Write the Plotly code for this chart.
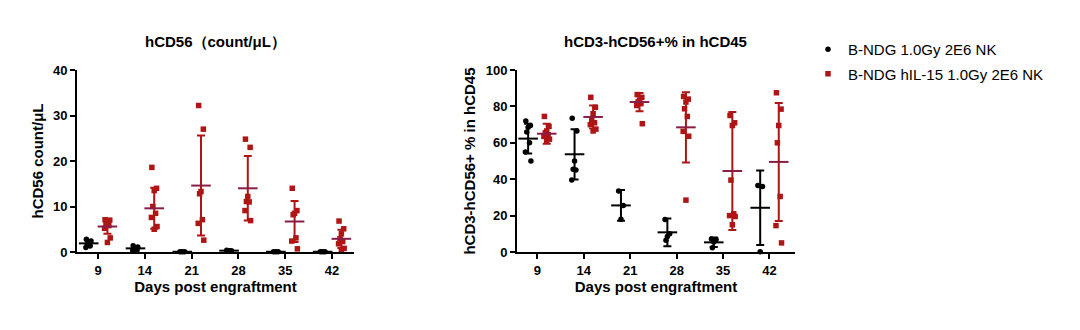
import plotly.graph_objects as go

days = ["9", "14", "21", "28", "35", "42"]
series_names = ["B-NDG 1.0Gy 2E6 NK", "B-NDG hIL-15 1.0Gy 2E6 NK"]

# Left panel: hCD56 count/uL — individual points
cd56_black = [
    [2.8, 2.4, 2.0, 1.7, 1.3, 1.0],
    [1.4, 1.1, 0.8, 0.6, 0.4, 0.3],
    [0.05, 0.05, 0.05],
    [0.4, 0.3, 0.3, 0.2],
    [0.05, 0.05, 0.05],
    [0.05, 0.05, 0.05],
]
cd56_red = [
    [7.1, 7.0, 6.8, 6.3, 5.8, 5.2, 3.1, 2.1],
    [18.6, 14.0, 13.5, 10.0, 8.5, 7.6, 5.6, 5.0],
    [32.2, 27.0, 13.3, 12.8, 7.1, 6.3, 2.6],
    [24.8, 23.0, 12.2, 11.1, 11.0, 9.1, 6.9],
    [14.0, 9.1, 8.5, 8.2, 3.1, 2.4, 0.7],
    [6.8, 5.1, 4.0, 2.9, 2.3, 1.8, 0.8, 0.2],
]
cd56_black_mean = [1.9, 0.8, 0.05, 0.3, 0.05, 0.05]
cd56_black_sd = [0.6, 0.4, 0.0, 0.1, 0.0, 0.0]
cd56_red_mean = [5.6, 9.6, 14.6, 14.0, 6.7, 2.9]
cd56_red_sd = [1.6, 4.5, 11.0, 7.1, 4.5, 2.0]

# Right panel: hCD3-hCD56+ % in hCD45
pct_black = [
    [72.0, 69.5, 68.5, 66.0, 60.0, 55.0, 50.0],
    [73.5, 66.5, 50.0, 45.5, 45.0, 39.5],
    [33.5, 25.5, 18.0],
    [17.8, 10.0, 8.5, 6.5],
    [7.2, 6.8, 5.5, 2.3],
    [36.5, 36.0, 0.2],
]
pct_red = [
    [74.5, 69.0, 66.5, 65.5, 64.5, 63.5, 62.0, 61.0],
    [85.0, 79.5, 76.0, 72.5, 71.0, 70.0, 67.5, 66.5],
    [86.5, 85.0, 83.5, 82.5, 81.5, 80.5, 70.5],
    [85.5, 84.0, 82.4, 78.7, 74.5, 66.3, 63.6, 28.5],
    [75.0, 71.0, 69.5, 39.5, 21.0, 20.0, 19.5, 15.0],
    [87.5, 78.5, 69.5, 60.0, 30.5, 14.5, 5.0],
]
pct_black_mean = [62.3, 53.7, 25.6, 10.8, 5.3, 24.3]
pct_black_sd = [8.2, 13.8, 8.4, 7.6, 2.6, 20.5]
pct_red_mean = [65.0, 74.2, 82.4, 68.5, 44.5, 49.5]
pct_red_sd = [5.5, 6.3, 5.0, 19.3, 32.4, 32.4]

BLACK = "#000000"
RED = "#B01515"
RED_MEAN = "#8A1D48"
FONT = "Liberation Sans, Arial, sans-serif"
OFF = 0.2
JIT = [-0.05, 0.05, 0.0, -0.03, 0.03, -0.06, 0.06, 0.0]

fig = go.Figure()


def add_panel(xa, ya, black, red, bm, bsd, rm, rsd, show):
    for vals_list, off, color, sym, name in [
        (black, -OFF, BLACK, "circle", series_names[0]),
        (red, OFF, RED, "square", series_names[1]),
    ]:
        xs, ys = [], []
        for i, vals in enumerate(vals_list):
            for j, v in enumerate(vals):
                xs.append(i + off + JIT[j % len(JIT)])
                ys.append(v)
        fig.add_trace(go.Scatter(
            x=xs, y=ys, mode="markers", xaxis=xa, yaxis=ya,
            marker=dict(symbol=sym, size=5.5, color=color),
            name=name, showlegend=show, legendgroup=name, cliponaxis=False,
        ))
    for means, sds, off, color, mcolor in [
        (bm, bsd, -OFF, BLACK, BLACK),
        (rm, rsd, OFF, RED, RED_MEAN),
    ]:
        fig.add_trace(go.Scatter(
            x=[i + off for i in range(len(days))], y=means, mode="markers",
            xaxis=xa, yaxis=ya, showlegend=False, cliponaxis=False,
            marker=dict(symbol="line-ew", size=14, color=mcolor,
                        line=dict(width=2, color=mcolor)),
            error_y=dict(type="data", array=sds, symmetric=True,
                         color=color, thickness=2, width=4),
        ))


add_panel("x", "y", cd56_black, cd56_red, cd56_black_mean, cd56_black_sd,
          cd56_red_mean, cd56_red_sd, True)
add_panel("x2", "y2", pct_black, pct_red, pct_black_mean, pct_black_sd,
          pct_red_mean, pct_red_sd, False)

tickfont = dict(family=FONT, size=13, color="black", weight="bold")
titlefont = dict(family=FONT, size=15, color="black", weight="bold")

xcommon = dict(
    tickvals=list(range(len(days))), ticktext=days, showgrid=False,
    zeroline=False, showline=True, linecolor="black", linewidth=2,
    ticks="outside", ticklen=5, tickwidth=2, tickcolor="black", automargin=False,
    tickfont=tickfont, title=dict(text="Days post engraftment", font=titlefont, standoff=4),
)
ycommon = dict(
    showgrid=False, zeroline=False, showline=True, linecolor="black",
    linewidth=2, ticks="outside", ticklen=5, tickwidth=2, tickcolor="black",
    tickfont=tickfont, automargin=False,
)

fig.update_layout(
    width=1080, height=330,
    margin=dict(l=0, r=0, t=0, b=0, autoexpand=False),
    paper_bgcolor="white", plot_bgcolor="white",
    font=dict(family=FONT, color="black"),
    xaxis=dict(domain=[77 / 1080, 354 / 1080], range=[-0.45, 5.47], anchor="y", **xcommon),
    xaxis2=dict(domain=[517 / 1080, 795 / 1080], range=[-0.44, 5.55], anchor="y2", **xcommon),
    yaxis=dict(domain=[1 - 252 / 330, 1 - 70 / 330], range=[0, 40],
               tickvals=[0, 10, 20, 30, 40], anchor="x",
               title=dict(text="hCD56 count/μL", font=titlefont, standoff=6), **ycommon),
    yaxis2=dict(domain=[1 - 252 / 330, 1 - 70 / 330], range=[0, 100],
                tickvals=[0, 20, 40, 60, 80, 100], anchor="x2",
                title=dict(text="hCD3-hCD56+ % in hCD45", font=titlefont, standoff=6), **ycommon),
    legend=dict(x=808 / 1080, y=1 - 33 / 330, xanchor="left", yanchor="top",
                font=dict(family=FONT, size=15, color="black"),
                bgcolor="rgba(0,0,0,0)", tracegroupgap=2, itemsizing="trace"),
    annotations=[
        dict(text="hCD56（count/μL）", x=215 / 1080, y=1 - 42 / 330, xref="paper",
             yref="paper", showarrow=False, font=titlefont, xanchor="center", yanchor="middle"),
        dict(text="hCD3-hCD56+% in hCD45", x=655 / 1080, y=1 - 42 / 330, xref="paper",
             yref="paper", showarrow=False, font=titlefont, xanchor="center", yanchor="middle"),
    ],
)

fig.write_html("out.html")
